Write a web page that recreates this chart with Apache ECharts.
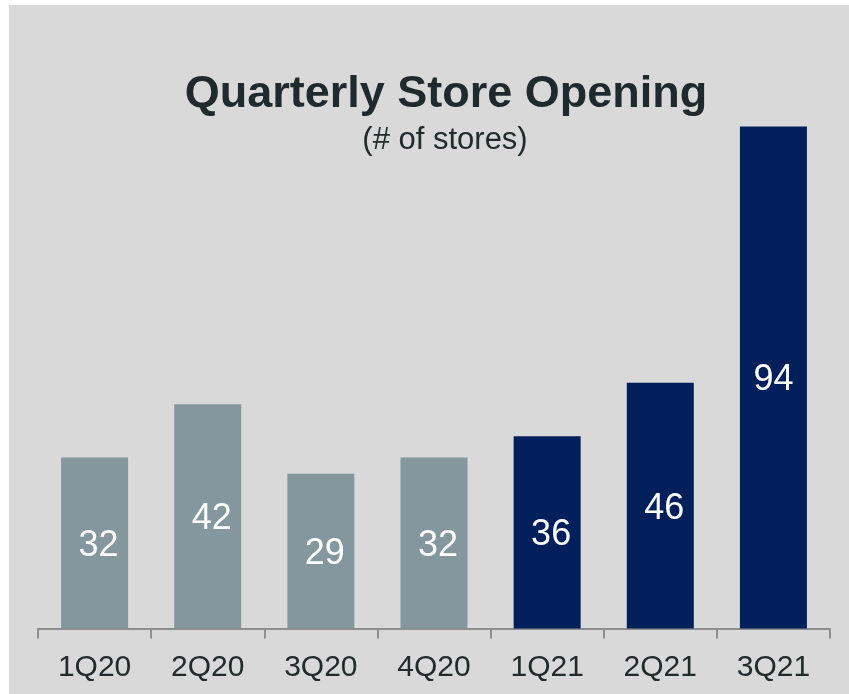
<!DOCTYPE html>
<html>
<head>
<meta charset="utf-8">
<script src="https://cdn.jsdelivr.net/npm/echarts@6/dist/echarts.min.js"></script>
<style>
html,body{margin:0;padding:0;background:#ffffff;width:849px;height:694px;overflow:hidden;}
#chart{position:absolute;left:9px;top:5px;width:840px;height:689px;}
</style>
</head>
<body>
<div id="chart"></div>
<script>
const categories = ['1Q20','2Q20','3Q20','4Q20','1Q21','2Q21','3Q21'];
const storeOpenings = [32, 42, 29, 32, 36, 46, 94];
const barColors = ['#84979e','#84979e','#84979e','#84979e','#001f5b','#001f5b','#001f5b'];
const labelShiftX = [4, 4, 4, 4, 4, 4, 0];
const titleText = 'Quarterly Store Opening';
const subtitleText = '(# of stores)';

const chart = echarts.init(document.getElementById('chart'));
const font = '"Liberation Sans", Arial, sans-serif';
chart.setOption({
  backgroundColor: '#d9d9d9',
  animation: false,
  graphic: [
    {type:'text', x:437, y:90, style:{text:titleText, fontFamily:font, fontSize:45, fontWeight:'bold', fill:'#1f2a2e', textAlign:'center', textVerticalAlign:'middle'}},
    {type:'text', x:436, y:135.5, style:{text:subtitleText, fontFamily:font, fontSize:31, fill:'#222a2c', textAlign:'center', textVerticalAlign:'middle'}}
  ],
  grid: {left:29, right:19, top:89.5, bottom:65.5},
  xAxis: {
    type:'category', data:categories,
    axisLine:{show:true, lineStyle:{color:'#8e8e8e', width:2}},
    axisTick:{show:true, inside:false, alignWithLabel:false, length:10, lineStyle:{color:'#8e8e8e', width:2}},
    axisLabel:{color:'#222a2c', fontSize:30, fontFamily:font, margin:24}
  },
  yAxis: {type:'value', min:0, max:100, show:false, splitLine:{show:false}},
  series: [{
    type:'bar', barWidth:67,
    data: storeOpenings.map((v,i)=>({value:v, itemStyle:{color:barColors[i]}, label:{offset:[labelShiftX[i],3]}})),
    label:{show:true, position:'inside', color:'#ffffff', fontSize:36, fontFamily:font}
  }]
});
</script>
</body>
</html>
